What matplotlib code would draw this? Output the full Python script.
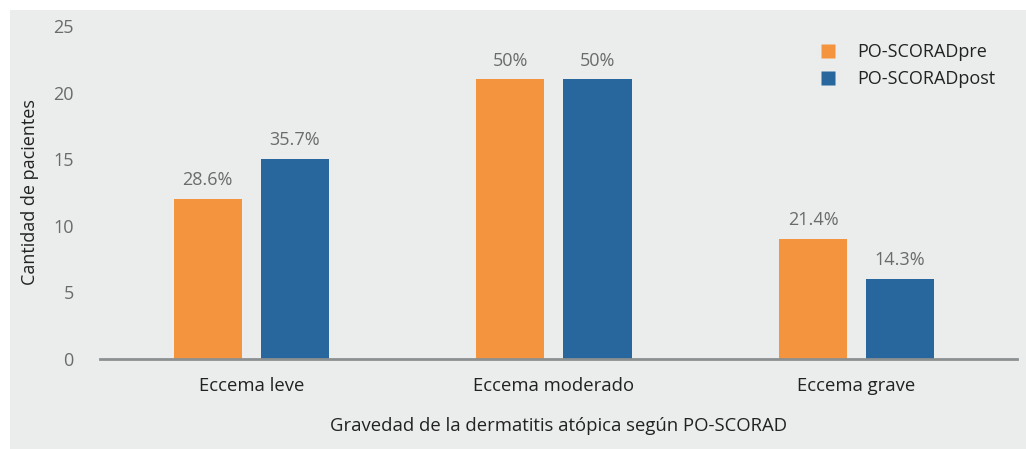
import numpy as np
import matplotlib
matplotlib.use("Agg")
import matplotlib.pyplot as plt
from matplotlib.patches import Rectangle
from matplotlib.lines import Line2D

CATEGORIES = ["Eccema leve", "Eccema moderado", "Eccema grave"]
PRE_VALUES = [12, 21, 9]
POST_VALUES = [15, 21, 6]
PRE_LABELS = ["28.6%", "50%", "21.4%"]
POST_LABELS = ["35.7%", "50%", "14.3%"]
Y_TICKS = [0, 5, 10, 15, 20, 25]

ORANGE = "#F5943F"
BLUE = "#27679E"
PANEL = "#EBECEC"

plt.rcParams["font.family"] = ["Open Sans", "DejaVu Sans"]

fig = plt.figure(figsize=(10.26, 4.49), dpi=100)
fig.patch.set_facecolor("white")
# light grey panel behind the chart
fig.patches.append(Rectangle((10 / 1026, 0), 1, 1 - 10 / 449,
                             transform=fig.transFigure, facecolor=PANEL,
                             edgecolor="none", zorder=-10))

ax = fig.add_axes([100 / 1026, 1 - 359 / 449, 917 / 1026, (359 - 26) / 449])
ax.set_facecolor("none")

x = np.arange(len(CATEGORIES))
off = 0.144
w = 0.225
b1 = ax.bar(x - off, PRE_VALUES, w, color=ORANGE, label="PO-SCORADpre", zorder=2)
b2 = ax.bar(x + off, POST_VALUES, w, color=BLUE, label="PO-SCORADpost", zorder=2)

for bars, labels in ((b1, PRE_LABELS), (b2, POST_LABELS)):
    for rect, lab in zip(bars, labels):
        ax.annotate(lab, (rect.get_x() + rect.get_width() / 2, rect.get_height()),
                    xytext=(0, 7), textcoords="offset points",
                    ha="center", va="bottom", fontsize=13, color="#6b6b6b")

ax.set_xlim(-0.5, 2.53)
ax.set_ylim(0, 25)
ax.set_yticks(Y_TICKS)
ax.set_xticks(x)
ax.set_xticklabels(CATEGORIES, fontsize=13.3, color="#222222")
ax.tick_params(axis="y", length=0, pad=19, labelsize=13, labelcolor="#6b6b6b")
ax.tick_params(axis="x", length=0, pad=13)

for s in ("top", "right", "left"):
    ax.spines[s].set_visible(False)
ax.spines["bottom"].set_color("#8C9090")
ax.spines["bottom"].set_linewidth(2)

ax.set_ylabel("Cantidad de pacientes", fontsize=13, color="#222222", labelpad=10)
ax.set_xlabel("Gravedad de la dermatitis atópica según PO-SCORAD",
              fontsize=13.3, color="#222222", labelpad=16)

handles = [Line2D([], [], marker="s", linestyle="none", markersize=10,
                  markerfacecolor=c, markeredgecolor="none") for c in (ORANGE, BLUE)]
ax.legend(handles, ["PO-SCORADpre", "PO-SCORADpost"], loc="upper right",
          bbox_to_anchor=(0.995, 1.0), frameon=False, fontsize=13,
          handletextpad=0.6, labelspacing=0.5, borderaxespad=0.55,
          labelcolor="#222222")

fig.savefig("out.png", dpi=100)
